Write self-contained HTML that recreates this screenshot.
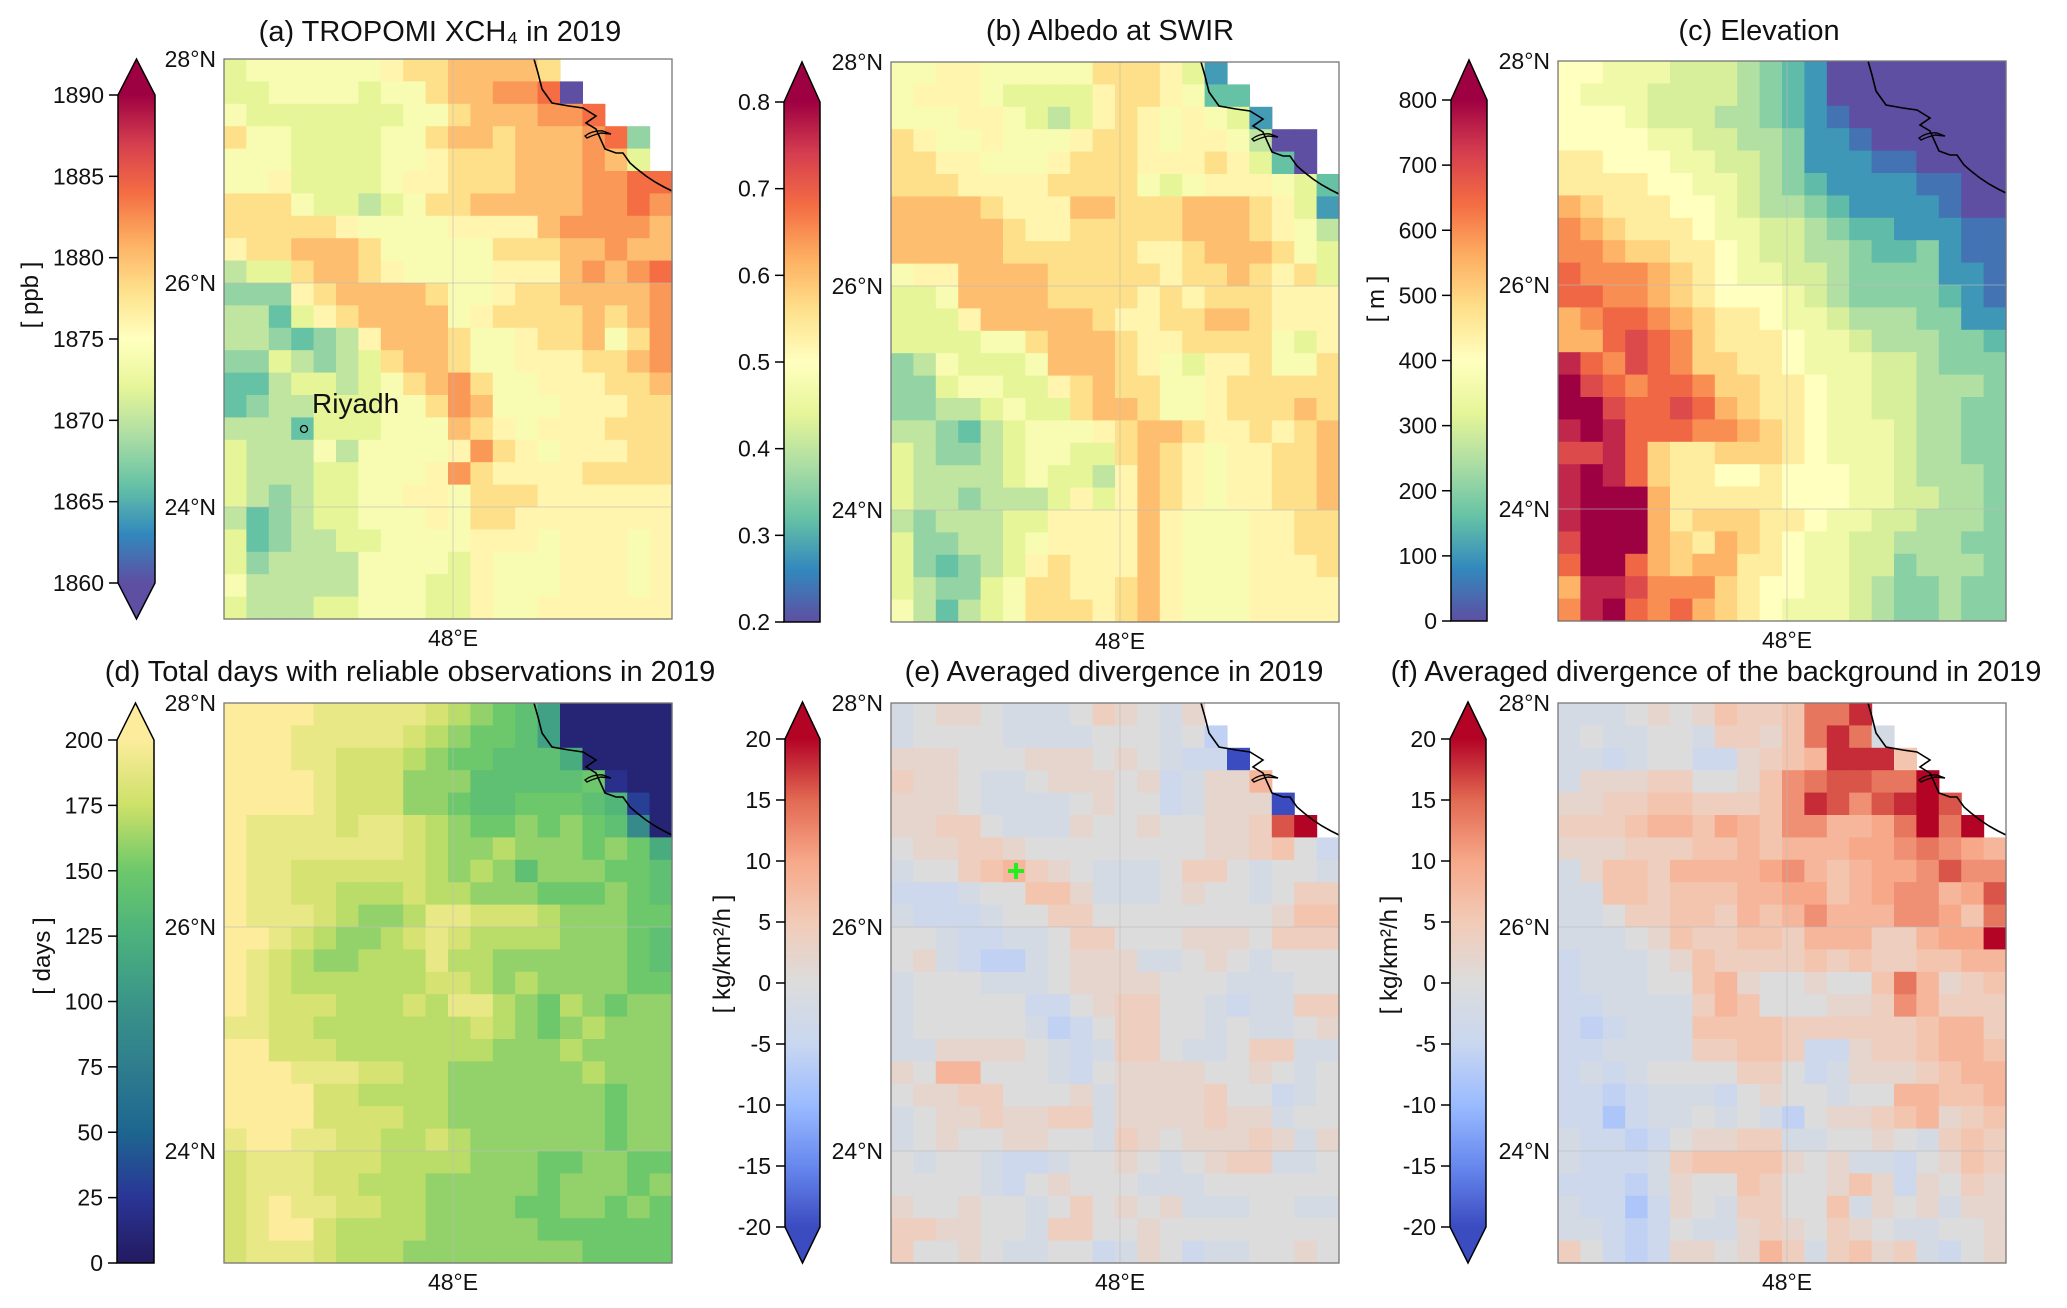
<!DOCTYPE html>
<html><head><meta charset="utf-8"><style>
html,body{margin:0;padding:0;background:#fff}
svg{display:block}
text{font-family:"Liberation Sans",Arial,sans-serif;fill:#111}
</style></head><body>
<svg id="fig" width="2067" height="1308" viewBox="0 0 2067 1308" xmlns="http://www.w3.org/2000/svg"></svg>
<script>
// ---- data: each row is 20 cells (west->east), rows north->south; '.' = no data
const CODES = "0123456789ABCDEFGHIJK";
// (a) XCH4 ppb: value = 1858 + 2*idx
const xchBase = 1858, xchStep = 2;
const xchRows = [
"78888889AABBBBA.....",
"778888788ABBCCD0....",
"8777777788ABBBCCD...",
"A88777788ABBABBBCD5.",
"8887777889AAABBBCB7.",
"8897777899AAABBBCCDD",
"AAA877678AABBBBBCCDC",
"AAAAA988889999BCCCCB",
"9AABBBA88888AAABBCBB",
"677ABBA98888999BCBCD",
"5559ABBBBA889AABBBBC",
"66479ABBBB89AAAABABC",
"6654569BBBA889AAB8AC",
"5576567ABBA88999AABC",
"44677678ABCA88999AAB",
"456677788ACB888999AA",
"6664777888BA98999AAA",
"76668688889CA98999AA",
"7666778889CA9999AAAA",
"76567788998AAA999999",
"64567788898AA9999999",
"74566778888999899989",
"75666688887988899989",
"86666688877988899989",
"76667788877988999999"
];
// (b) albedo: value = 0.2 + 0.04*idx
const albBase = 0.2, albStep = 0.04;
const albRows = [
"778877777999862.....",
"7888766668998733....",
"77788765689878762...",
"9877877789987887500.",
"99887778999888986 30".replace(' ',''),
"99988889999767888763",
"AAAA9888AA999AAA9862",
"AAAAA98899999AAA9875",
"AAAAA999999889AAA976",
"788AAAA99999899A9896",
"667AAAA9999898999888",
"6668AAAAA98899AA9888",
"6666779AAA9889999768",
"4576667AAA9876889779",
"4467766 89A9977899999".replace(' ',''),
"445567669AA977899 9A9".replace(' ',''),
"55435677789AA988989A",
"654456776 69A98788 99A".replace(/ /g,''),
"65555676658A98788 99A".replace(/ /g,''),
"65545556868A98788 99A".replace(/ /g,''),
"54555668888A87778899",
"64455678888A87778899",
"64345689888A87778889",
"65446799889A87778888",
"75356799989A87778888"
];
// (c) elevation m: value = 50*idx
const elevBase = 0, elevStep = 50;
const elevRows = [
"88777666543200000000",
"87776666543200000000",
"88876665543210000000",
"88887766554221000000",
"99888776654222110000",
"99998877654322221100",
"BA999887655432222100",
"CBA99987766543322211",
"CCBAA998766554334211",
"DCCCBA98776654444221",
"DDCCBA98887654444321",
"BCDDCBA9987765554422",
"BBDEDCA9998776555443",
"FDCEDCAA998777665444",
"GEDCDDCAA99877665554",
"GGEDDEDBA99877665544",
"FGFDDDCCBA9877765544",
"EEFDA99AAA9877765544",
"FGFDA998898887765554",
"FGGGB999998887766554",
"FGGGB9AAA99877665554",
"EGGGBA9BA98776655544",
"DGGDBABB998776645554",
"BFFECCCA988776544544",
"CFGDCDBA987776544544"
];
// (d) days: value = 10 + 10*idx
const daysBase = 10, daysStep = 10;
const daysRows = [
"JJJJIIIIIHGFEDA00000",
"JJJIIIIIHGFEEDA00000",
"JJJIIHHHGFEEDDDB0000",
"JJJJIHHHFFFDDDDDE100",
"JJJJIHHHFFEDDEEEDC20",
"JIIIIHIIHGFEEFEFED80",
"JIIIIIIIHGFFGFFFEFEB",
"JIIHHHHHHGFGFDFFFEED",
"JIIHHGGGHGGFFFEEEFED",
"JIIIHGFFGIIHHHGFFFEE",
"JJIHGFFGHIHGGGGFFFED",
"JIHGFFGGGIGGFFFFFFED",
"JIHGGGGGGHHGFGFFFFEE",
"JIHHHGGGHGIIGFEGFEFF",
"IIHHGGGGGGGHGFEFGFFF",
"JJHHHGGGGGGGFFFGFFFF",
"JJJIIIHHGGFFFFFFGFFF",
"JJJJHHGGGGFFFFFFFEFF",
"JJJJHHHHGGFFFFFFFEFF",
"IJJIIHHGGHGFFFFFFEFF",
"HIIIHHHGGGGFFFEEFFEE",
"HIIIHHGGGFFFFFEFFFEF",
"HIJIIHHGGFFFFEEFFEFE",
"HIJJHGGGGFFFFFEEEEEE",
"HIIIHGGGFFFFFFFFEEEE"
];
// (e) divergence kg/km2/h: value = 2*(idx-10)
const divBase = -20, divStep = 2;
const divRows = [
"9ABBA999ACBA9B......",
"9AAAA9999AAA9A7.....",
"BBBAAABBBABA9880....",
"CBBA99ABBBAB89BBE...",
"BBBA9999ABAA89BBB0..",
"BBCCA999BAABAABBCIK.",
"ABBCCBAAAAAAAABBCDA8",
"9AACDECBA999ACCA9AA9",
"8889AADDB999ABAA9ACC",
"98889AACCAAAAAAAABDD",
"AA98899ACCAAABBBACCC",
"AB98779ABBB99ABA9AAA",
"9AAA999ABBBBAAA999AA",
"9AAAAA88ABCCAA989 9CC".replace(' ',''),
"9AAAAA978ACCAA9A99AB",
"99BBBBA989CCA99ACC99",
"BAEEAAA98ABBBBAABA9A",
"ABBCCAAAB9BBBBCAA89A",
"9ABBCBBCC9BBBBCBB9AA",
"9ABAABBAA9CBABBBCB9B",
"A9AA9889AABA9ABCC99A",
"AAAA98ABAAA999AAAAAA",
"BAABAA9ACABAB999AA99",
"CCBBAA9CCAABAAAAAAAA",
"CAABA99AA89BA899AABA"
];
// (f) background divergence kg/km2/h: value = 2*(idx-10)
const bgBase = -20, bgStep = 2;
const bgRows = [
"999ABABDCCDHHJ......",
"9A99AA9CCBDHJH9.....",
"9989AA88BCDEJJJD....",
"9BBBCCAABDGHIIHHK...",
"BBCCDDCCCDGJIGIJKI..",
"CCCDEEDFEDGGEEFHKHK.",
"BBBCCCDDEDEEEFFGHGFE",
"9BDDCEEEEFGEDEFFGIGG",
"99DDCDDDEEFFDEFGGEFI",
"99ACCDDCEDEGEEEGGFDH",
"999ABDCCDDCEEECCEFFK",
"8999ABDCCCCDCDCCDDEE",
"8999AADEBAABAADHEBCD",
"889999CEDAAABBCGECCC",
"878999DDDDCCCCCCDEEC",
"889999CCDDC88BCCDEED",
"8989AAAACCA89BBBCDEE",
"88789998ABAA9AAEEDDE",
"886899A9A97ABBCDEBCD",
"98878ABBCC99AABA9CDC",
"98889CDDDDBAB998ABDC",
"88879BAADCAABDB8BACB",
"98868BA9CCAAD9BAB9BB",
"99878A99BCBACBA99AAB",
"CA878BBABEC9CDBC98AB"
];
// tick labels
const xchTicks = [1860,1865,1870,1875,1880,1885,1890];
const albTicks = [0.2,0.3,0.4,0.5,0.6,0.7,0.8];
const elevTicks = [0,100,200,300,400,500,600,700,800];
const daysTicks = [0,25,50,75,100,125,150,175,200];
const divTicks = [-20,-15,-10,-5,0,5,10,15,20];
const latLabels = ["28°N","26°N","24°N"];
const lonLabels = ["48°E"];
</script>
<script>
const NS="http://www.w3.org/2000/svg";
const svg=document.getElementById('fig');
function mk(tag,attrs,parent){const e=document.createElementNS(NS,tag);for(const k in attrs)e.setAttribute(k,attrs[k]);(parent||svg).appendChild(e);return e;}
function hex(h){return [parseInt(h.slice(1,3),16),parseInt(h.slice(3,5),16),parseInt(h.slice(5,7),16)];}
function cmapFn(stops){const c=stops.map(hex);return t=>{t=Math.max(0,Math.min(1,t));const p=t*(c.length-1);const i=Math.min(c.length-2,Math.floor(p));const f=p-i;const r=c[i].map((v,k)=>Math.round(v+(c[i+1][k]-v)*f));return `rgb(${r[0]},${r[1]},${r[2]})`;};}
const spectral=cmapFn(["#5e4fa2","#3288bd","#66c2a5","#abdda4","#e6f598","#ffffbf","#fee08b","#fdae61","#f46d43","#d53e4f","#9e0142"]);
const coolwarm=cmapFn(["#3b4cc0","#6788ee","#9abbff","#c9d7f0","#dcdcdc","#f2cbb7","#f7a889","#e26952","#b40426"]);
const daysmap=cmapFn(["#241a5f","#2a3596","#1d6690","#2f7d8e","#3a9588","#4bb27d","#6dc86b","#cde168","#fcec9c"]);
const CELL=22.4, W=448, H=560;
const panels=[
 {id:'a',rows:xchRows,base:xchBase,step:xchStep,vmin:1860,vmax:1890,cm:spectral,x0:224,y0:59,title:'(a) TROPOMI XCH\u2084 in 2019',tx:440,ty:41,
  cb:{x:118,w:37,tipT:59,vT:95,vB:583,tipB:619},ticks:xchTicks,fmt:v=>String(v),unit:'[ ppb ]',ux:30,uy:295},
 {id:'b',rows:albRows,base:albBase,step:albStep,vmin:0.2,vmax:0.8,cm:spectral,x0:891,y0:62,title:'(b) Albedo at SWIR',tx:1110,ty:40,
  cb:{x:784,w:36,tipT:62,vT:102,vB:622,tipB:null},ticks:albTicks,fmt:v=>v.toFixed(1),unit:null},
 {id:'c',rows:elevRows,base:elevBase,step:elevStep,vmin:0,vmax:800,cm:spectral,x0:1558,y0:61,title:'(c) Elevation',tx:1759,ty:40,
  cb:{x:1451,w:36,tipT:60,vT:100,vB:621,tipB:null},ticks:elevTicks,fmt:v=>String(v),unit:'[ m ]',ux:1376,uy:299},
 {id:'d',rows:daysRows,base:daysBase,step:daysStep,vmin:0,vmax:200,cm:daysmap,x0:224,y0:703,title:'(d) Total days with reliable observations in 2019',tx:410,ty:681,
  cb:{x:117,w:37,tipT:703,vT:740,vB:1263,tipB:null},ticks:daysTicks,fmt:v=>String(v),unit:'[ days ]',ux:42,uy:956},
 {id:'e',rows:divRows,base:divBase,step:divStep,vmin:-20,vmax:20,cm:coolwarm,x0:891,y0:703,title:'(e) Averaged divergence in 2019',tx:1114,ty:681,
  cb:{x:785,w:35,tipT:702,vT:739,vB:1227,tipB:1263},ticks:divTicks,fmt:v=>String(v),unit:'[ kg/km\u00b2/h ]',ux:722,uy:954},
 {id:'f',rows:bgRows,base:bgBase,step:bgStep,vmin:-20,vmax:20,cm:coolwarm,x0:1558,y0:703,title:'(f) Averaged divergence of the background in 2019',tx:1716,ty:681,
  cb:{x:1450,w:36,tipT:702,vT:739,vB:1227,tipB:1263},ticks:divTicks,fmt:v=>String(v),unit:'[ kg/km\u00b2/h ]',ux:1389,uy:955}
];
const coast=[[310,0],[314,14],[318,30],[328,44],[345,47],[359,49],[372,57],[362,64],[372,70],[381,90],[392,94],[399,94],[406,104],[413,110],[422,117],[431,123],[440,128],[448,132]];
panels.forEach(p=>{
  const g=mk('g',{});
  
  
  const t=mk('text',{x:p.tx,y:p.ty,'font-size':29,'text-anchor':'middle'},g);t.textContent=p.title;
  
  const x=v=>p.x0+v*CELL, y=v=>p.y0+v*CELL;
  const cells=mk('g',{},g);
  
  p.rows.forEach((row,ri)=>{
    for(let ci=0;ci<20&&ci<row.length;ci++){
      const ch=row[ci]; if(ch==='.')continue;
      const idx=CODES.indexOf(ch); if(idx<0)continue;
      const val=p.base+idx*p.step;
      const r=mk('rect',{x:x(ci).toFixed(2),y:y(ri).toFixed(2),width:CELL+0.6,height:CELL+0.6,fill:p.cm((val-p.vmin)/(p.vmax-p.vmin))},cells);
      
      
    }
  });
  [10,20].forEach(k=>mk('line',{x1:p.x0,x2:p.x0+W,y1:y(k),y2:y(k),stroke:'#bbb','stroke-width':1,'stroke-opacity':0.6},g));
  mk('line',{x1:p.x0+229,x2:p.x0+229,y1:p.y0,y2:p.y0+H,stroke:'#bbb','stroke-width':1,'stroke-opacity':0.6},g);
  mk('polyline',{points:coast.map(q=>(p.x0+q[0])+','+(p.y0+q[1])).join(' '),fill:'none',stroke:'#000','stroke-width':1.6},g);
  mk('path',{d:`M${p.x0+361} ${p.y0+77} q8 -6 18 -5 l8 3 l-10 -1 q-8 2 -14 5z`,fill:'none',stroke:'#000','stroke-width':1.4},g);
  mk('rect',{x:p.x0,y:p.y0,width:W,height:H,fill:'none',stroke:'#777','stroke-width':1.3},g);
  latLabels.forEach((s,i)=>{const tt=mk('text',{x:p.x0-8,y:p.y0+i*224+8,'font-size':23,'text-anchor':'end'},g);tt.textContent=s;
    });
  const lt=mk('text',{x:p.x0+229,y:p.y0+H+27,'font-size':23,'text-anchor':'middle'},g);lt.textContent=lonLabels[0];
  
  const cb=p.cb, gid='grad'+p.id;
  const lg=mk('linearGradient',{id:gid,x1:0,y1:1,x2:0,y2:0},mk('defs',{},g));
  for(let i=0;i<=40;i++){mk('stop',{offset:i/40,'stop-color':p.cm(i/40)},lg);}
  const cbg=mk('g',{},g);
  mk('rect',{x:cb.x,y:cb.vT,width:cb.w,height:cb.vB-cb.vT,fill:`url(#${gid})`},cbg);
  mk('polygon',{points:`${cb.x},${cb.vT} ${cb.x+cb.w/2},${cb.tipT} ${cb.x+cb.w},${cb.vT}`,fill:p.cm(1)},cbg);
  if(cb.tipB) mk('polygon',{points:`${cb.x},${cb.vB} ${cb.x+cb.w/2},${cb.tipB} ${cb.x+cb.w},${cb.vB}`,fill:p.cm(0)},cbg);
  let outline=`M${cb.x} ${cb.vB} L${cb.x} ${cb.vT} L${cb.x+cb.w/2} ${cb.tipT} L${cb.x+cb.w} ${cb.vT} L${cb.x+cb.w} ${cb.vB}`;
  outline+= cb.tipB?` L${cb.x+cb.w/2} ${cb.tipB} Z`:' Z';
  mk('path',{d:outline,fill:'none',stroke:'#000','stroke-width':1.5},cbg);
  p.ticks.forEach(v=>{
    const ty=cb.vB-(v-p.vmin)/(p.vmax-p.vmin)*(cb.vB-cb.vT);
    mk('line',{x1:cb.x-9,x2:cb.x,y1:ty,y2:ty,stroke:'#000','stroke-width':1.5},cbg);
    const tl=mk('text',{x:cb.x-14,y:ty+8,'font-size':23,'text-anchor':'end'},cbg);tl.textContent=p.fmt(v);
    
  });
  if(p.unit){const u=mk('text',{x:p.ux,y:p.uy,'font-size':24,'text-anchor':'middle',transform:`rotate(-90 ${p.ux} ${p.uy})`,dy:8},g);u.textContent=p.unit;
    }
});
const rm=mk('circle',{cx:304,cy:429,r:3.5,fill:'none',stroke:'#000','stroke-width':1.3});

const rt=mk('text',{x:312,y:413,'font-size':28});rt.textContent='Riyadh';

const cr=mk('path',{d:'M1016 863 V879 M1008 871 H1024',stroke:'#22ee22','stroke-width':4});

</script>
</body></html>
